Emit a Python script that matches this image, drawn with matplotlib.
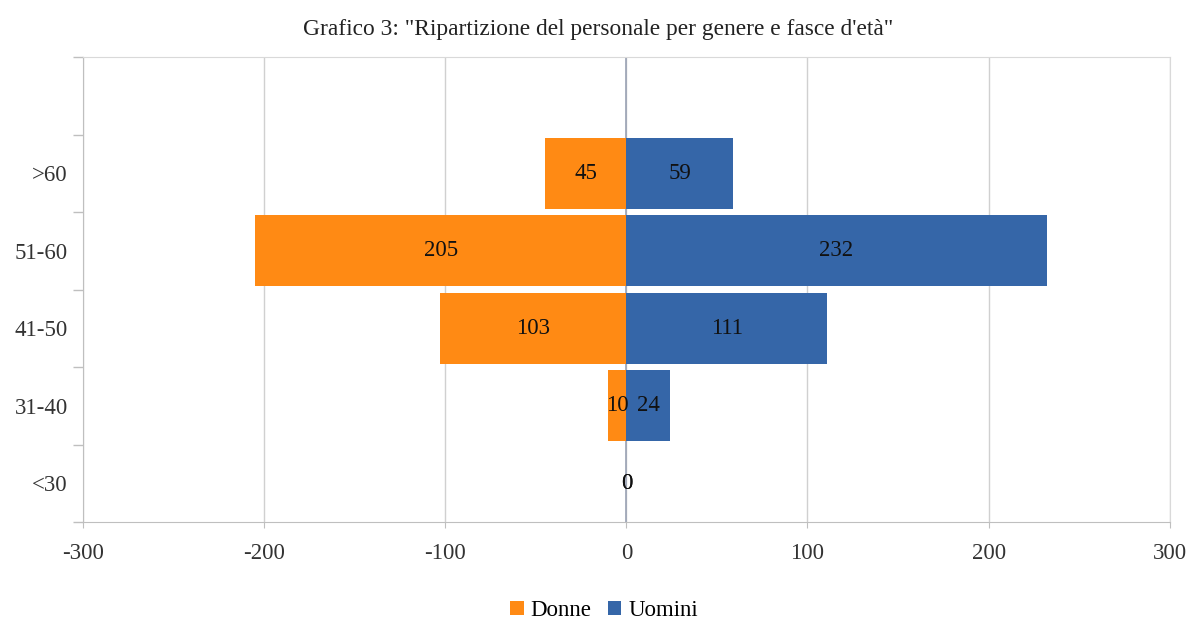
import matplotlib.pyplot as plt
import numpy as np
from matplotlib.ticker import FixedLocator

categories = ['<30', '31-40', '41-50', '51-60', '>60']
donne = [0, 10, 103, 205, 45]
uomini = [0, 24, 111, 232, 59]

plt.rcParams['font.family'] = ['Liberation Serif', 'DejaVu Serif']
plt.rcParams['axes.unicode_minus'] = False

fig = plt.figure(figsize=(11.96, 6.21), dpi=100)
ax = fig.add_axes([0.0694, 0.1594, 0.9086, 0.7486])

y = np.arange(len(categories))
orange = '#FF8A14'
blue = '#3566A8'

b1 = ax.barh(y, [-v for v in donne], height=0.92, color=orange, label='Donne', zorder=3)
b2 = ax.barh(y, uomini, height=0.92, color=blue, label='Uomini', zorder=3)
ax.bar_label(b1, labels=[str(v) for v in donne], label_type='center', fontsize=16.5, color='#111111', zorder=4)
ax.bar_label(b2, labels=[str(v) for v in uomini], label_type='center', fontsize=16.5, color='#111111', zorder=4)

ax.set_xlim(-300, 300)
ax.set_ylim(-0.5, len(categories) + 0.5)
ax.set_xticks(range(-300, 301, 100))
ax.set_yticks(y)
ax.set_yticklabels(categories)
ax.yaxis.set_minor_locator(FixedLocator(np.arange(-0.5, len(categories) + 1, 1)))
ax.tick_params(axis='y', which='major', length=0, pad=11, labelsize=16.5, labelcolor='#333333')
ax.tick_params(axis='y', which='minor', length=7, color='#BFBFBF', width=1)
ax.tick_params(axis='x', which='major', length=4, color='#BFBFBF', pad=11, labelsize=16.5, labelcolor='#333333')

ax.grid(axis='x', color='#D0D0D0', linewidth=1, zorder=0)
ax.axvline(0, color='#9AA3B5', linewidth=1.2, zorder=2)
for s in ['top', 'right']:
    ax.spines[s].set_color('#D9D9D9')
for s in ['left', 'bottom']:
    ax.spines[s].set_color('#BFBFBF')

fig.suptitle('Grafico 3: "Ripartizione del personale per genere e fasce d\'età"',
             y=0.97, fontsize=16.8, color='#222222')
fig.legend(loc='lower center', bbox_to_anchor=(0.505, -0.033), ncol=2, frameon=False,
           fontsize=16.5, handlelength=0.6, handleheight=0.6, handletextpad=0.3, columnspacing=0.7)

fig.savefig('out.png', dpi=100)
